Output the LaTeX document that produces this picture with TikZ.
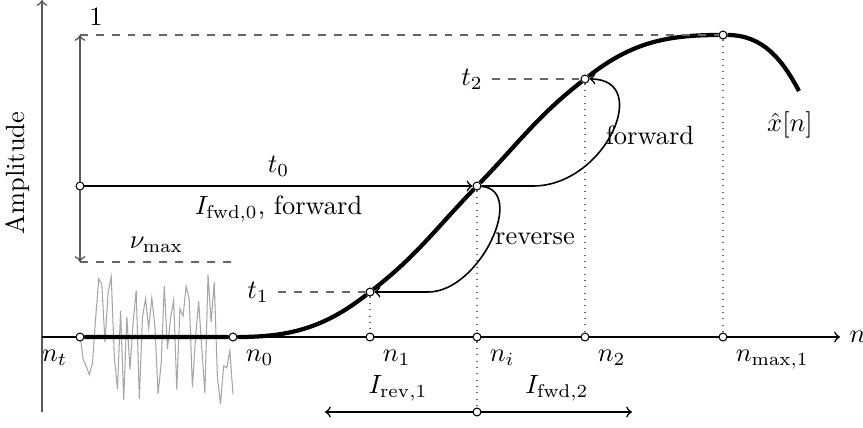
\documentclass[tikz,border=0pt]{standalone}
\begin{document}
\begin{tikzpicture}[x=0.0133cm, y=0.0133cm, >=to, semithick,
    dot/.style={draw, thin, circle, fill=white, inner sep=0pt, minimum size=3pt},
    axis/.style={->, black!65},
    guide/.style={dashed, black!60},
    drop/.style={dotted, thin, black!60},
    signal/.style={ultra thick},
    noise/.style={black!35, line width=0.4pt}]
    \useasboundingbox (0,0) rectangle (863,427);

    \pgfmathsetseed{11}
    \draw[noise] plot[domain=80:233, samples=50] (\x, {90+74*rand});

    \coordinate (o) at (42,90);
    \coordinate (ytop) at (42,427);
    \coordinate (ybot) at (42,15);
    \coordinate (xend) at (840,90);
    \draw[axis] (ybot) -- (ytop);
    \draw[->] (o) -- (xend);
    \node (xlab) [right] at (xend) {$n$};
    \node (ylab) [rotate=90] at (18,254) {Amplitude};

    \node (nt) [dot] at (80,90) {};
    \node (n0) [dot] at (233,90) {};
    \node (n1) [dot] at (370,90) {};
    \node (ni) [dot] at (477,90) {};
    \node (n2) [dot] at (585,90) {};
    \node (nmax) [dot] at (723,90) {};
    \node (ntlab) [below left] at (nt.south west) {$n_t$};
    \node (n0lab) [below right] at (n0.south east) {$n_0$};
    \node (n1lab) [below right] at (n1.south east) {$n_1$};
    \node (nilab) [below right] at (ni.south east) {$n_i$};
    \node (n2lab) [below right] at (n2.south east) {$n_2$};
    \node (nmaxlab) [below right] at (nmax.south east) {$n_{\max,1}$};

    \node (t1) [dot] at (370,135) {};
    \node (ti) [dot] at (477,241) {};
    \node (t2) [dot] at (585,348) {};
    \node (pk) [dot] at (723,392) {};
    \coordinate (xe) at (799,336);
    \node (xhat) at (790,302) {$\hat{x}[n]$};

    \draw[signal] (nt) -- (n0) to[out=0, in=218] (t1) to[out=38, in=226] (ti)
        to[out=46, in=218] (t2) to[out=38, in=180] (pk) to[out=0, in=118] (xe);

    \node (a0) [dot] at (80,241) {};
    \coordinate (one) at (80,392);
    \coordinate (nu) at (80,165);
    \coordinate (nuend) at (233,165);
    \draw[axis] (a0) -- (one);
    \draw[axis] (a0) -- (nu);
    \draw[guide] (one) -- (pk);
    \draw[guide] (nu) -- node[above, black] (nulab) {$\nu_{\max}$} (nuend);
    \node (onelab) at (96,410) {$1$};

    \draw[->] (a0) -- node[above] (t0lab) {$t_0$}
        node[below] (fwd0lab) {$I_{\mathrm{fwd},0}$, forward} (ti);

    \node (t1lab) at (258,135) {$t_1$};
    \node (t2lab) at (472,348) {$t_2$};
    \draw[guide] (t1lab) -- (t1);
    \draw[guide] (t2lab) -- (t2);

    \draw[drop] (t1) -- (n1);
    \draw[drop] (ti) -- (ni);
    \draw[drop] (t2) -- (n2);
    \draw[drop] (pk) -- (nmax);

    \coordinate (fa) at (533,241);
    \draw[->] (ti) -- (fa) .. controls +(72,0) and +(68,0) .. (t2);
    \node (fwdlab) at (650,292) {forward};

    \coordinate (ra) at (428,135);
    \draw[->] (ti) .. controls +(50,-4) and +(52,0) .. (ra) -- (t1);
    \node (revlab) at (535,188) {reverse};

    \node (ib) [dot] at (477,15) {};
    \coordinate (il) at (325,15);
    \coordinate (ir) at (632,15);
    \draw[drop] (ni) -- (ib);
    \draw[->] (ib) -- (il);
    \draw[->] (ib) -- (ir);
    \node (irevlab) at (398,39) {$I_{\mathrm{rev},1}$};
    \node (ifwdlab) at (557,39) {$I_{\mathrm{fwd},2}$};
\end{tikzpicture}
\end{document}
